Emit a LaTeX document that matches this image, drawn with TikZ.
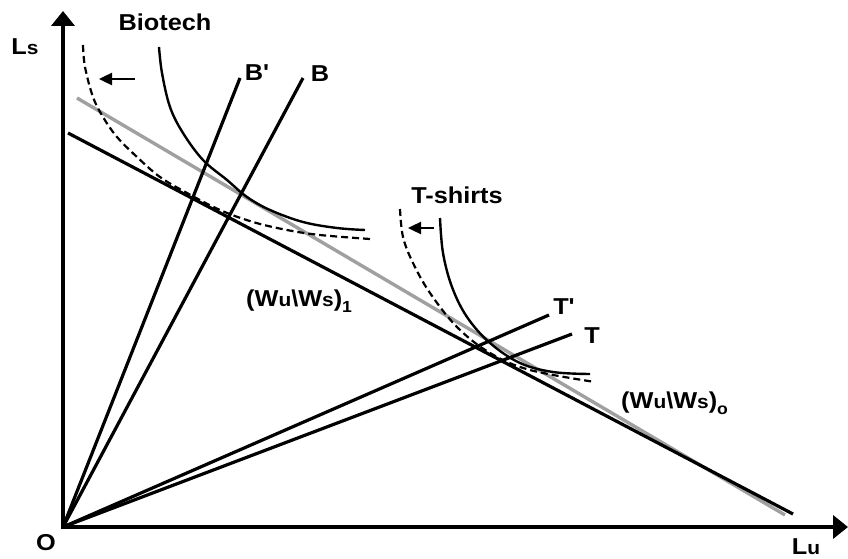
\documentclass[tikz,border=0pt]{standalone}
\usepackage{fontspec}
\usepackage{graphicx}
\setmainfont{Liberation Sans}
\usetikzlibrary{arrows.meta}
\definecolor{grayline}{RGB}{160,160,160}
\newcommand\wide[1]{\scalebox{1.1}[1]{#1}}
\newcommand\lc[1]{{\fontsize{19}{19}\selectfont #1}}
\newcommand\sub[1]{\raisebox{-6pt}{\fontsize{16}{16}\selectfont #1}}
\begin{document}
\begin{tikzpicture}[x=1pt,y=-1pt,
  lbl/.style={font=\bfseries\fontsize{23}{23}\selectfont, inner sep=0pt},
  axis/.style={line width=4.5pt, line cap=rect, -{Triangle[length=15pt,width=23pt]}},
  ray/.style={line width=3.2pt},
  budget/.style={line width=3.2pt},
  budgetold/.style={line width=3.4pt, color=grayline},
  iso/.style={line width=2.4pt},
  isonew/.style={line width=2.2pt, dash pattern=on 7pt off 4pt},
  shiftarrow/.style={line width=2.4pt, -{Triangle[length=13pt,width=12pt]}}
]
\useasboundingbox (0,0) rectangle (848,559);

% coordinates
\coordinate (O) at (63,527);
\coordinate (Ytip) at (63,11);
\coordinate (Xtip) at (848,527);
\coordinate (G0) at (77,98);
\coordinate (G1) at (785,515);
\coordinate (K0) at (68,133);
\coordinate (K1) at (793,514);
\coordinate (Bp) at (240,78);
\coordinate (Bq) at (303,78);
\coordinate (Tp) at (549,315);
\coordinate (Tq) at (572,334);
\coordinate (ba0) at (135,79);
\coordinate (ba1) at (99,79);
\coordinate (ta0) at (434,228);
\coordinate (ta1) at (408,228);

% budget lines
\draw[budgetold] (G0) -- (G1);
\draw[budget] (K0) -- (K1);

% rays
\draw[ray] (O) -- (Bp);
\draw[ray] (O) -- (Bq);
\draw[ray] (O) -- (Tp);
\draw[ray] (O) -- (Tq);

% isoquants
\draw[iso] plot[smooth, tension=0.6] coordinates {(159,47) (162,73) (170,107) (183,133) (203,160) (227,180) (247,197) (270,210) (303,222) (337,228) (365,230)};
\draw[isonew] plot[smooth, tension=0.6] coordinates {(83,45) (85,67) (93,97) (103,117) (117,137) (137,157) (160,177) (187,193) (220,210) (253,222) (287,230) (320,235) (370,239)};
\draw[iso] plot[smooth, tension=0.6] coordinates {(440,218) (443,253) (452,287) (467,317) (490,343) (520,363) (553,372) (590,374)};
\draw[isonew] plot[smooth, tension=0.6] coordinates {(400,209) (403,237) (413,263) (430,293) (457,327) (490,353) (530,370) (595,382)};

% shift arrows
\draw[shiftarrow] (ba0) -- (ba1);
\draw[shiftarrow] (ta0) -- (ta1);

% axes
\draw[axis] (O) -- (Ytip);
\draw[axis] (O) -- (Xtip);

% labels
\node[lbl] (lbio) at (165,22) {\wide{Biotech}};
\node[lbl] (lls) at (25,47) {\wide{L\lc{s}}};
\node[lbl, anchor=base] (lO) at (46,550) {\wide{O}};
\node[lbl, anchor=base] (llu) at (806,554) {\wide{L\lc{u}}};
\node[lbl] (lBp) at (257,73) {\wide{B\textquotesingle}};
\node[lbl] (lB) at (320,74) {\wide{B}};
\node[lbl] (ltsh) at (457,195) {\wide{T-shirts}};
\node[lbl] (lTp) at (564,307) {\wide{T\textquotesingle}};
\node[lbl] (lT) at (592,336) {\wide{T}};
\node[lbl, anchor=west] (lw1) at (246,301) {\wide{(W\lc{u}\textbackslash W\lc{s})\sub{1}}};
\node[lbl, anchor=west] (lw0) at (621,403) {\wide{(W\lc{u}\textbackslash W\lc{s})\sub{o}}};
\end{tikzpicture}
\end{document}
